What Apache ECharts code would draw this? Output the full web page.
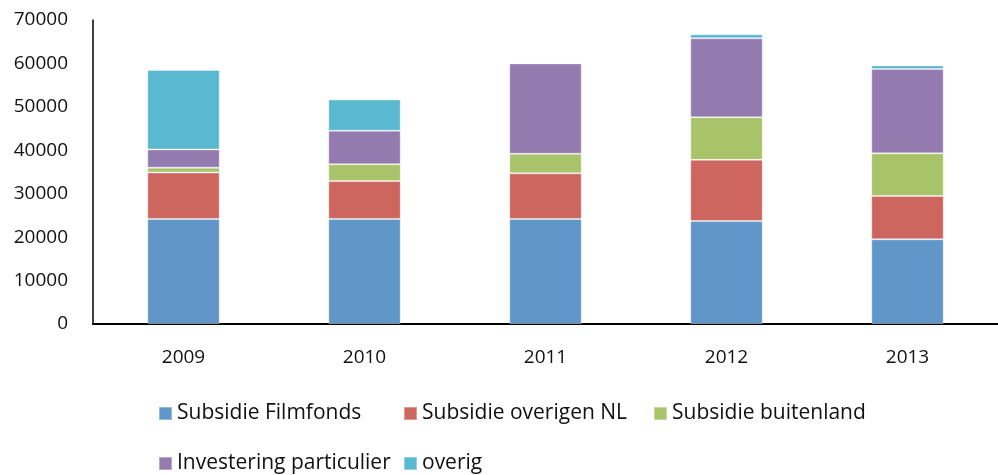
<!DOCTYPE html>
<html>
<head>
<meta charset="utf-8">
<script src="https://cdn.jsdelivr.net/npm/echarts@6/dist/echarts.min.js"></script>
<style>
  html, body { margin: 0; padding: 0; background: #fff; }
  #chart { width: 998px; height: 475px; }
</style>
</head>
<body>
<div id="chart"></div>
<script>
// jaren + bedragen per bron
const years = ['2009', '2010', '2011', '2012', '2013']
const filmfonds = [24200, 24200, 24200, 23700, 19500]
const overigenNL = [10700, 8700, 10500, 14100, 10000]
const buitenland = [1100, 3900, 4500, 9800, 9800]
const particulier = [4200, 7700, 20800, 18200, 19400]
const overig = [18300, 7200, 0, 900, 850]
const yTicks = [0, 10000, 20000, 30000, 40000, 50000, 60000, 70000]

const seriesNames = ['Subsidie Filmfonds', 'Subsidie overigen NL', 'Subsidie buitenland', 'Investering particulier', 'overig']
const seriesData = [filmfonds, overigenNL, buitenland, particulier, overig]
const colors = ['#6096C8', '#CD665F', '#A9C36A', '#937BB0', '#5BB8D1']

const font = "'Open Sans', sans-serif"

// legenda in twee rijen, vaste kolommen zoals in Excel
const legendPos = [[158, 403], [403, 403], [653, 403], [158, 453], [403, 453]]

const chart = echarts.init(document.getElementById('chart'))

const option = {
  backgroundColor: '#fff',
  color: colors,
  animation: false,
  grid: { left: 93, right: 0, top: 20, bottom: 151, containLabel: false },
  legend: seriesNames.map((name, i) => ({
    left: legendPos[i][0],
    top: legendPos[i][1],
    padding: 0,
    data: [name],
    itemWidth: 13,
    itemHeight: 13,
    icon: 'rect',
    selectedMode: false,
    textStyle: { fontFamily: font, fontSize: 21, color: '#111' }
  })),
  xAxis: {
    type: 'category',
    data: years,
    axisTick: { show: false },
    axisLine: { lineStyle: { color: '#000', width: 2 } },
    axisLabel: { fontFamily: font, fontSize: 19, color: '#111', margin: 24 }
  },
  yAxis: {
    type: 'value',
    min: yTicks[0],
    max: yTicks[yTicks.length - 1],
    interval: 10000,
    splitLine: { show: false },
    axisTick: { show: false },
    axisLine: { show: true, lineStyle: { color: '#000', width: 1.5 } },
    axisLabel: {
      fontFamily: font, fontSize: 19, color: '#111', margin: 25,
      padding: [5, 0, 0, 0],
      formatter: v => String(v)
    }
  },
  series: seriesData.map((d, i) => ({
    name: seriesNames[i],
    type: 'bar',
    stack: 'totaal',
    data: d,
    barWidth: '40%',
    itemStyle: { color: colors[i], borderColor: 'rgba(255,255,255,0.35)', borderWidth: 1 }
  }))
}

chart.setOption(option)
</script>
</body>
</html>
